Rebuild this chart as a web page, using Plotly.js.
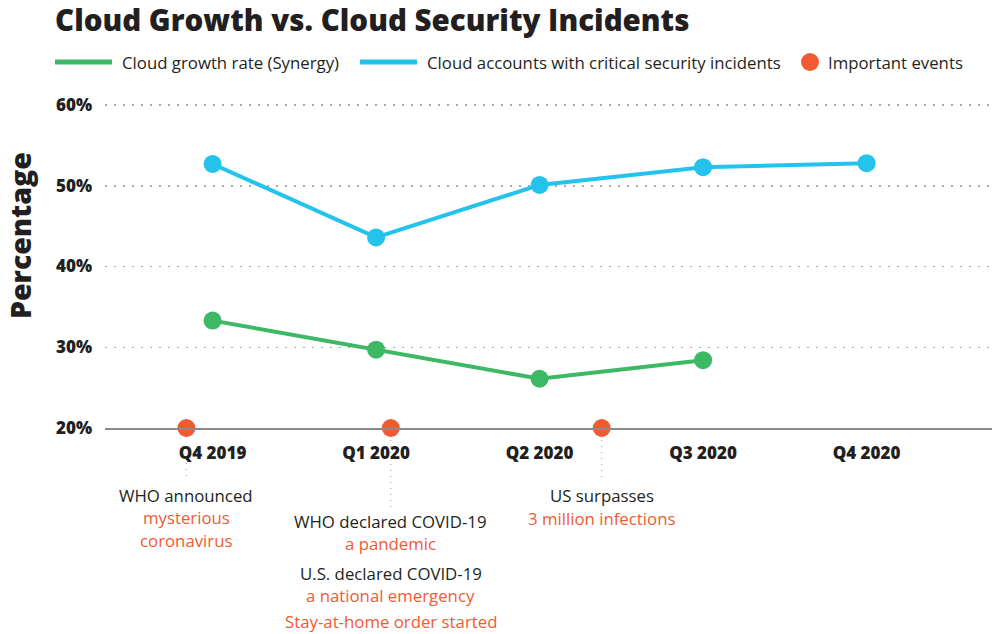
<!DOCTYPE html>
<html>
<head>
<meta charset="utf-8">
<script src="https://cdn.plot.ly/plotly-3.0.1.min.js"></script>
<style>
  html, body { margin: 0; padding: 0; background: #ffffff; }
  #chart { width: 992px; height: 634px; }
</style>
</head>
<body>
<div id="chart"></div>
<script>
// ---------- DATA ----------
const categories = ['Q4 2019', 'Q1 2020', 'Q2 2020', 'Q3 2020', 'Q4 2020'];
const growthRate = [33.3, 29.7, 26.1, 28.4];          // Cloud growth rate (Synergy), %
const incidentRate = [52.7, 43.6, 50.1, 52.3, 52.8];  // Cloud accounts with critical security incidents, %
const eventPositions = [-0.16, 1.09, 2.38];           // position on the quarter axis
const eventValues = [20, 20, 20];
const yTickValues = [20, 30, 40, 50, 60];
const yTickLabels = ['20%', '30%', '40%', '50%', '60%'];
const seriesNames = ['Cloud growth rate (Synergy)', 'Cloud accounts with critical security incidents', 'Important events'];
const eventNotes = [
  [['WHO announced', 'dark'], ['mysterious', 'accent'], ['coronavirus', 'accent']],
  [['WHO declared COVID-19', 'dark'], ['a pandemic', 'accent'], ['U.S. declared COVID-19', 'dark'], ['a national emergency', 'accent'], ['Stay-at-home order started', 'accent']],
  [['US surpasses', 'dark'], ['3 million infections', 'accent']]
];

// ---------- STYLE / LAYOUT ----------
const GREEN = '#3db865', BLUE = '#23c3eb', ORANGE = '#f15a33', DARK = '#231f20';
const FONT = '"Open Sans", "Liberation Sans", sans-serif';
const W = 992, H = 634;
const M = { l: 105, r: 0, t: 103, b: 206 };
const plotW = W - M.l - M.r;
const plotH = H - M.t - M.b;
const yTop = 60 + 2 * 40 / (H - M.b - 105);             // so 60% sits at 105px
const py = px => (H - M.b - px) / plotH;                // pixel (from top) -> paper y
const pxx = px => (px - M.l) / plotW;                   // pixel (from left) -> paper x

// vertical pixel positions of note lines per event
const noteRows = [
  [495, 517, 540],
  [521, 543, 573, 595, 621],
  [496, 518]
];
const connector = [[463, 478], [440, 510], [440, 478]];

const catIdx = categories.map((_, i) => i);

const traces = [
  {
    name: seriesNames[0],
    x: catIdx.slice(0, growthRate.length), y: growthRate,
    mode: 'lines+markers', type: 'scatter',
    line: { color: GREEN, width: 4 },
    marker: { color: GREEN, size: 18 },
    cliponaxis: false, hoverinfo: 'skip', showlegend: false
  },
  {
    name: seriesNames[1],
    x: catIdx, y: incidentRate,
    mode: 'lines+markers', type: 'scatter',
    line: { color: BLUE, width: 4 },
    marker: { color: BLUE, size: 18 },
    cliponaxis: false, hoverinfo: 'skip', showlegend: false
  },
  {
    name: seriesNames[2],
    x: eventPositions, y: eventValues,
    mode: 'markers', type: 'scatter',
    marker: { color: ORANGE, size: 18 },
    cliponaxis: false, hoverinfo: 'skip', showlegend: false
  }
];

const annotations = [];
const shapes = [];

// ----- custom legend (line swatches + labels) -----
const LEG_Y = py(62);
const legendItems = [
  { kind: 'line', color: GREEN, x0: 55, x1: 112, tx: 122, text: seriesNames[0] },
  { kind: 'line', color: BLUE, x0: 360, x1: 417, tx: 427, text: seriesNames[1] },
  { kind: 'dot', color: ORANGE, x0: 801, x1: 819, tx: 828, text: seriesNames[2] }
];
legendItems.forEach(it => {
  if (it.kind === 'line') {
    shapes.push({
      type: 'line', xref: 'paper', yref: 'paper',
      x0: pxx(it.x0), x1: pxx(it.x1), y0: LEG_Y, y1: LEG_Y,
      line: { color: it.color, width: 5 }
    });
  } else {
    shapes.push({
      type: 'circle', xref: 'paper', yref: 'paper',
      x0: pxx(it.x0), x1: pxx(it.x1), y0: py(71), y1: py(53),
      fillcolor: it.color, line: { width: 0 }
    });
  }
  annotations.push({
    xref: 'paper', yref: 'paper', x: pxx(it.tx - 2), y: LEG_Y,
    xanchor: 'left', yanchor: 'middle', showarrow: false,
    text: it.text,
    font: { family: FONT, size: 16.8, color: DARK, weight: 500 }
  });
});

// ----- event notes -----
eventNotes.forEach((lines, e) => {
  lines.forEach((ln, k) => {
    annotations.push({
      xref: 'x', yref: 'paper',
      x: eventPositions[e], y: py(noteRows[e][k]),
      xanchor: 'center', yanchor: 'middle',
      text: ln[0], showarrow: false,
      font: { family: FONT, size: 16.8, color: ln[1] === 'dark' ? DARK : ORANGE, weight: 500 }
    });
  });
  shapes.push({
    type: 'line', xref: 'x', yref: 'paper',
    x0: eventPositions[e], x1: eventPositions[e],
    y0: py(connector[e][0]), y1: py(connector[e][1]),
    line: { color: '#9a9a9a', width: 1, dash: '1px,5px' }
  });
});

// y-axis title
annotations.push({
  xref: 'paper', yref: 'paper',
  x: pxx(20), y: py(236),
  xanchor: 'center', yanchor: 'middle',
  text: 'Percentage', textangle: -90, showarrow: false,
  font: { family: FONT, size: 28.5, color: DARK, weight: 800 }
});

const layout = {
  width: W, height: H,
  margin: M,
  paper_bgcolor: '#ffffff', plot_bgcolor: '#ffffff',
  showlegend: false,
  title: {
    text: 'Cloud Growth vs. Cloud Security Incidents',
    xref: 'container', yref: 'container',
    x: 55 / W, xanchor: 'left',
    y: 1 - 21 / H, yanchor: 'middle',
    font: { family: FONT, size: 29.5, color: DARK, weight: 800 }
  },
  xaxis: {
    range: [-0.658, 4.767],
    tickvals: catIdx, ticktext: categories,
    showgrid: false, zeroline: false,
    showline: true, linecolor: '#8a8a8a', linewidth: 1.5,
    ticks: '', ticklabelstandoff: 9,
    tickfont: { family: FONT, size: 17, color: DARK, weight: 800 },
    fixedrange: true
  },
  yaxis: {
    range: [20, yTop],
    tickvals: yTickValues, ticktext: yTickLabels,
    showgrid: true, gridcolor: '#a8a8a8', gridwidth: 1.5, griddash: '1.5px,7.5px',
    zeroline: false, showline: false,
    ticks: '', ticklabelstandoff: 12,
    tickfont: { family: FONT, size: 17, color: DARK, weight: 800 },
    fixedrange: true
  },
  annotations: annotations,
  shapes: shapes
};

Plotly.newPlot('chart', traces, layout, { displayModeBar: false, staticPlot: true });
</script>
</body>
</html>
